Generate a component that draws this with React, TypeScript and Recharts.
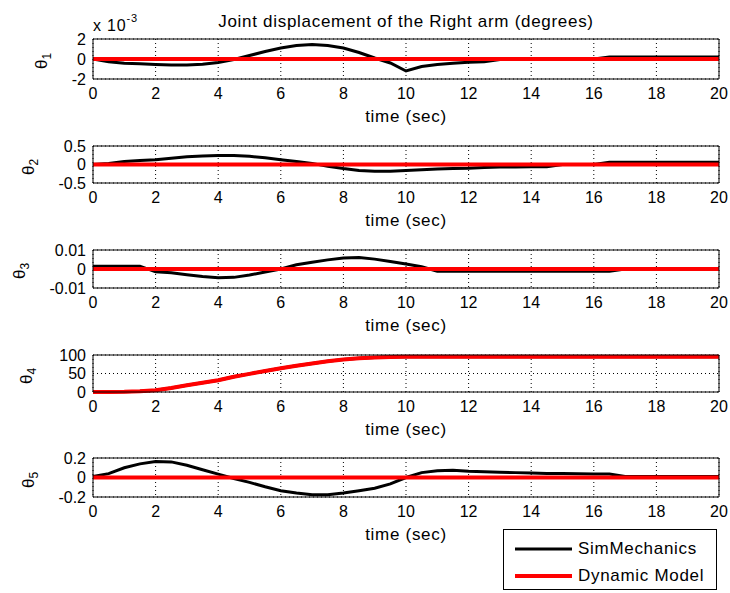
import React from 'react';
import { LineChart, Line, XAxis, YAxis, CartesianGrid, Legend } from 'recharts';

const FONT = 'Arial, "Liberation Sans", Helvetica, sans-serif';

// sample times (sec) shared by the read-off series
const time = [
  0, 0.5, 1, 1.5, 2, 2.5, 3, 3.5, 4, 4.5, 5, 5.5, 6, 6.5, 7, 7.5, 8, 8.5, 9, 9.5, 10,
  10.5, 11, 11.5, 12, 12.5, 13, 13.5, 14, 14.5, 15, 15.5, 16, 16.5, 17, 17.5, 18, 18.5, 19, 19.5, 20,
];
const xTicks = [0, 2, 4, 6, 8, 10, 12, 14, 16, 18, 20];

// theta1 is given in units of 1e-3 (the axis carries the "x 10^-3" factor)
const theta1Sim = [
  0, -0.27, -0.42, -0.48, -0.55, -0.6, -0.6, -0.52, -0.35, -0.05, 0.35, 0.75, 1.1, 1.35, 1.45, 1.35,
  1.1, 0.65, 0.1, -0.4, -1.2, -0.75, -0.55, -0.42, -0.33, -0.27, -0.05, 0, 0, 0, 0, 0, 0, 0.2, 0.2,
  0.2, 0.2, 0.2, 0.2, 0.2, 0.2,
];
const theta2Sim = [
  0, 0.03, 0.08, 0.11, 0.13, 0.17, 0.21, 0.23, 0.24, 0.24, 0.22, 0.18, 0.13, 0.08, 0.03, -0.05,
  -0.11, -0.16, -0.18, -0.18, -0.16, -0.14, -0.12, -0.11, -0.1, -0.08, -0.07, -0.07, -0.06, -0.06,
  0, 0, 0, 0.06, 0.06, 0.06, 0.06, 0.06, 0.06, 0.06, 0.06,
];
const theta3Sim = [
  0.0015, 0.0015, 0.0015, 0.0015, -0.0015, -0.002, -0.003, -0.004, -0.0046, -0.0044, -0.0032,
  -0.0016, 0, 0.0022, 0.0036, 0.0048, 0.0058, 0.006, 0.0052, 0.004, 0.0026, 0.0012, -0.0012,
  -0.0012, -0.0012, -0.0012, -0.0012, -0.0012, -0.0012, -0.0012, -0.0012, -0.0012, -0.0012,
  -0.0012, 0, 0, 0, 0, 0, 0, 0,
];
const theta4Sim = [
  0, 0, 0.5, 2, 5, 11, 18, 25, 32, 41, 49, 57, 64, 71, 77, 83, 88, 91, 93, 94.5, 95, 95, 95, 95, 95,
  95, 95, 95, 95, 95, 95, 95, 95, 95, 95, 95, 95, 95, 95, 95, 95,
];
const theta4Dyn = [
  0, 0, 0.5, 2, 5, 11, 18, 25, 32, 41, 49, 57, 64, 71, 77, 83, 88, 91, 93, 94.5, 95, 95, 95, 95, 95,
  95, 95, 95, 95, 95, 95, 95, 95, 95, 95, 95, 95, 95, 95, 95, 95,
];
const theta5Sim = [
  0.01, 0.04, 0.1, 0.14, 0.165, 0.16, 0.125, 0.08, 0.035, -0.01, -0.05, -0.095, -0.135, -0.16,
  -0.178, -0.178, -0.16, -0.135, -0.11, -0.065, 0, 0.05, 0.07, 0.075, 0.065, 0.06, 0.055, 0.05,
  0.045, 0.04, 0.04, 0.038, 0.036, 0.035, 0.01, 0.01, 0.01, 0.01, 0.01, 0.01, 0.01,
];
// the dynamic model stays at zero for joints 1, 2, 3 and 5
const zeroTime = [0, 20];
const zeroDyn = [0, 0];

const theta1Ticks = [-2, 0, 2];
const theta2Ticks = [-0.5, 0, 0.5];
const theta3Ticks = [-0.01, 0, 0.01];
const theta4Ticks = [0, 50, 100];
const theta5Ticks = [-0.2, 0, 0.2];

const seriesNames = ['SimMechanics', 'Dynamic Model'];

const panels = [
  { sub: '1', sim: theta1Sim, dyn: null, ticks: theta1Ticks, top: 39, h: 40, labelX: 44 },
  { sub: '2', sim: theta2Sim, dyn: null, ticks: theta2Ticks, top: 146, h: 37, labelX: 31 },
  { sub: '3', sim: theta3Sim, dyn: null, ticks: theta3Ticks, top: 250, h: 38, labelX: 22 },
  { sub: '4', sim: theta4Sim, dyn: theta4Dyn, ticks: theta4Ticks, top: 355, h: 37, labelX: 29 },
  { sub: '5', sim: theta5Sim, dyn: null, ticks: theta5Ticks, top: 458, h: 39, labelX: 31 },
];

const legendWidths: Record<string, number> = { SimMechanics: 3, 'Dynamic Model': 4 };

const renderLegend = (props: any) => {
  const items = [...(props.payload || [])].sort(
    (a: any, b: any) => seriesNames.indexOf(a.value) - seriesNames.indexOf(b.value),
  );
  return (
    <div
      style={{
        border: '1px solid #000',
        background: '#fff',
        boxSizing: 'border-box',
        width: 214,
        height: 61,
        paddingTop: 5,
        fontFamily: FONT,
        color: '#000',
      }}
    >
      {items.map((e: any) => (
        <div key={e.value} style={{ display: 'flex', alignItems: 'center', height: 27 }}>
          <svg width={68} height={10}>
            <line x1={11} x2={68} y1={5} y2={5} stroke={e.color} strokeWidth={legendWidths[e.value] || 3} />
          </svg>
          <span style={{ marginLeft: 6, fontSize: 17, letterSpacing: 0.7 }}>{e.value}</span>
        </div>
      ))}
    </div>
  );
};

const timeLabel = (props: any) => {
  const vb = props.viewBox || { x: 93, y: 0, width: 626, height: 39 };
  return (
    <text x={vb.x + vb.width / 2} y={vb.y + 43} textAnchor="middle" fontSize={17} letterSpacing={0.7} fill="#000">
      time (sec)
    </text>
  );
};

const titleLabel = (props: any) => {
  const vb = props.viewBox || { x: 93, width: 626 };
  return (
    <g>
      <text x={vb.x + vb.width / 2} y={27} textAnchor="middle" fontSize={17} letterSpacing={0.7} fill="#000">
        Joint displacement of the Right arm (degrees)
      </text>
      <text x={vb.x} y={31} fontSize={16} letterSpacing={0.8} fill="#000">
        x 10
        <tspan dy={-9} fontSize={11}>
          -3
        </tspan>
      </text>
    </g>
  );
};

const Panel = ({ p, index }: { p: (typeof panels)[number]; index: number }) => {
  const first = index === 0;
  const last = index === panels.length - 1;
  const mt = first ? 39 : 10;
  const mb = last ? 56 : 8;
  const xh = 39;
  const height = mt + p.h + xh + mb;
  const domain = [p.ticks[0], p.ticks[p.ticks.length - 1]];
  const simRows = time.map((t, i) => ({ t, v: p.sim[i] }));
  const dynRows = p.dyn
    ? time.map((t, i) => ({ t, v: (p.dyn as number[])[i] }))
    : zeroTime.map((t, i) => ({ t, v: zeroDyn[i] }));

  return (
    <>
      <div style={{ position: 'absolute', left: 0, top: p.top - mt }}>
        <LineChart width={730} height={height} margin={{ top: mt, right: 11, bottom: mb, left: 53 }}>
          <CartesianGrid xAxisId="b" yAxisId="l" stroke="#000" strokeDasharray="1 3" />
          <XAxis
            xAxisId="b"
            dataKey="t"
            type="number"
            domain={[0, 20]}
            ticks={xTicks}
            interval={0}
            height={xh}
            tickLine={false}
            tickSize={6}
            tickMargin={3}
            axisLine={{ stroke: '#000' }}
            tick={{ fill: '#000', fontSize: 16 }}
            label={timeLabel}
          />
          <XAxis
            xAxisId="bi"
            type="number"
            domain={[0, 20]}
            ticks={xTicks}
            interval={0}
            mirror
            tick={false}
            tickSize={5}
            axisLine={false}
            tickLine={{ stroke: '#000' }}
          />
          <XAxis
            xAxisId="ti"
            orientation="top"
            type="number"
            domain={[0, 20]}
            ticks={xTicks}
            interval={0}
            mirror
            tick={false}
            tickSize={5}
            axisLine={{ stroke: '#000' }}
            tickLine={{ stroke: '#000' }}
            label={first ? titleLabel : undefined}
          />
          <YAxis
            yAxisId="l"
            type="number"
            domain={domain}
            ticks={p.ticks}
            interval={0}
            width={40}
            tickLine={false}
            tickSize={5}
            tickMargin={2}
            axisLine={{ stroke: '#000' }}
            tick={{ fill: '#000', fontSize: 16 }}
          />
          <YAxis
            yAxisId="li"
            type="number"
            domain={domain}
            ticks={p.ticks}
            interval={0}
            mirror
            tick={false}
            tickSize={5}
            axisLine={false}
            tickLine={{ stroke: '#000' }}
          />
          <YAxis
            yAxisId="r"
            orientation="right"
            type="number"
            domain={domain}
            ticks={p.ticks}
            interval={0}
            mirror
            tick={false}
            tickSize={5}
            axisLine={{ stroke: '#000' }}
            tickLine={{ stroke: '#000' }}
          />
          <Line
            xAxisId="b"
            yAxisId="l"
            data={simRows}
            dataKey="v"
            name={seriesNames[0]}
            type="linear"
            stroke="#000"
            strokeWidth={3}
            dot={false}
            activeDot={false}
            isAnimationActive={false}
          />
          <Line
            xAxisId="b"
            yAxisId="l"
            data={dynRows}
            dataKey="v"
            name={seriesNames[1]}
            type="linear"
            stroke="#ff0000"
            strokeWidth={4}
            dot={false}
            activeDot={false}
            isAnimationActive={false}
          />
          {last && (
            <Legend
              layout="horizontal"
              verticalAlign="middle"
              align="center"
              itemSorter={null as any}
              content={renderLegend}
              wrapperStyle={{ left: 503, top: 529 - (p.top - mt), width: 214, height: 61 }}
            />
          )}
        </LineChart>
      </div>
      {/* rotated y-axis label, e.g. θ1 */}
      <div
        style={{
          position: 'absolute',
          left: p.labelX,
          top: p.top + p.h / 2 + 2,
          transform: 'translate(-50%, -50%) rotate(-90deg)',
          fontSize: 17,
          lineHeight: '20px',
          whiteSpace: 'nowrap',
          color: '#000',
        }}
      >
        θ<sub style={{ fontSize: 12, verticalAlign: '-4px' }}>{p.sub}</sub>
      </div>
    </>
  );
};

export default function App() {
  return (
    <div
      style={{
        position: 'absolute',
        left: 0,
        top: 0,
        width: 730,
        height: 593,
        background: '#fff',
        fontFamily: FONT,
        overflow: 'hidden',
      }}
    >
      {panels.map((p, i) => (
        <Panel key={p.sub} p={p} index={i} />
      ))}
    </div>
  );
}
